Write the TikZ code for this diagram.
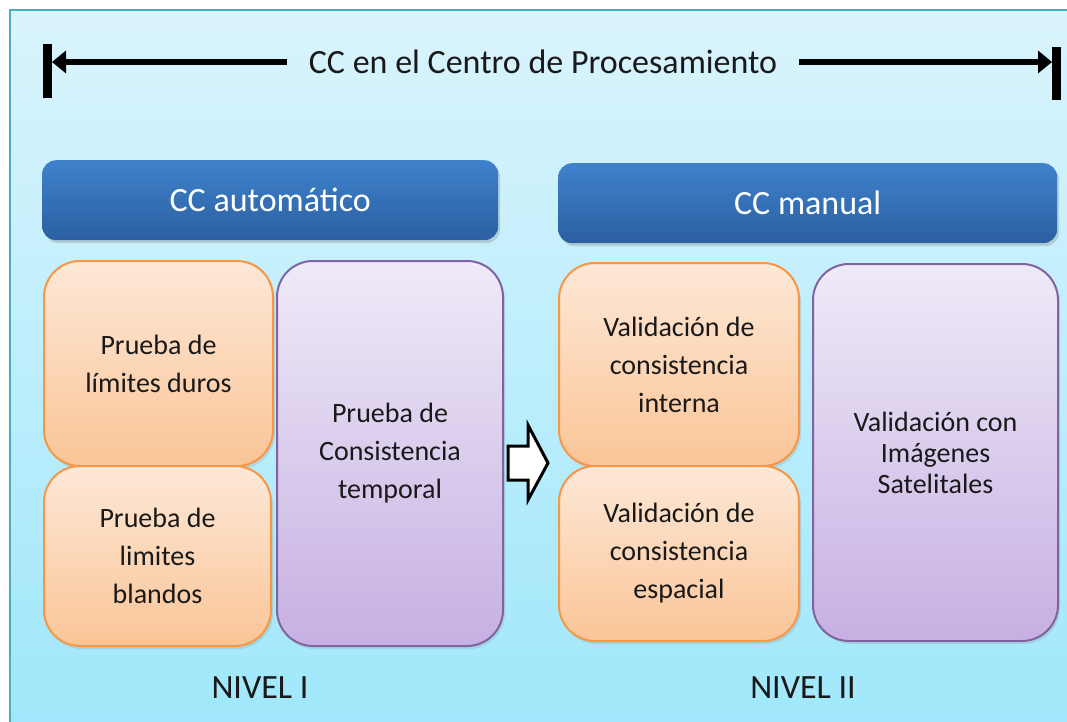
\documentclass[tikz,border=0pt]{standalone}
\usepackage{fontspec}
\setmainfont{Carlito}
\usetikzlibrary{arrows.meta,shadows}

\definecolor{panelarriba}{HTML}{DAF4FD}
\definecolor{panelabajo}{HTML}{9FE7FB}
\definecolor{panelborde}{HTML}{4BACC6}
\definecolor{azularriba}{HTML}{3F82CC}
\definecolor{azulabajo}{HTML}{2B5FA1}
\definecolor{naranjaarriba}{HTML}{FDE8D7}
\definecolor{naranjaabajo}{HTML}{FAC597}
\definecolor{naranjaborde}{HTML}{F79646}
\definecolor{moradaarriba}{HTML}{EFEAF8}
\definecolor{moradaabajo}{HTML}{C6B0E2}
\definecolor{moradaborde}{HTML}{8064A2}

\tikzset{
  caja/.style={anchor=north west, rounded corners=36pt, line width=2pt, align=center,
    inner sep=0pt, font=\fontsize{28}{38}\selectfont, text=black!90,
    drop shadow={opacity=0.2, shadow xshift=2pt, shadow yshift=-3pt}},
  naranja/.style={caja, draw=naranjaborde, top color=naranjaarriba, bottom color=naranjaabajo},
  morada/.style={caja, draw=moradaborde, top color=moradaarriba, bottom color=moradaabajo},
  titular/.style={anchor=north west, rounded corners=14pt, inner sep=0pt, text=white,
    top color=azularriba, bottom color=azulabajo, font=\fontsize{34}{40}\selectfont,
    drop shadow={opacity=0.3, shadow xshift=2pt, shadow yshift=-3pt}},
  nivel/.style={font=\fontsize{34}{40}\selectfont, text=black!90},
  barra/.style={line width=9pt},
}

\begin{document}
\begin{tikzpicture}[x=1pt, y=-1pt]

\useasboundingbox (0,0) rectangle (1067,722);

% fondo
\fill[white] (0,0) rectangle (1067,722);
\draw[panelborde, line width=2pt, top color=panelarriba, bottom color=panelabajo]
  (10,10) rectangle (1090,740);

% CC en el Centro de Procesamiento
\node[font=\fontsize{34}{40}\selectfont, text=black!90, inner xsep=22pt] (titulo) at (543,62) {CC en el Centro de Procesamiento};
\coordinate (izq) at (52,62);
\coordinate (der) at (1052,62);
\draw[barra] (47.5,44) -- (47.5,98);
\draw[barra] (1056,47) -- (1056,100);
\draw[line width=6pt, -{Triangle[length=14pt, width=22pt]}] (titulo.west) -- (izq);
\draw[line width=6pt, -{Triangle[length=14pt, width=22pt]}] (titulo.east) -- (der);

% NIVEL I
\node[titular, minimum width=456pt, minimum height=80pt] (auto) at (42,160) {CC automático};
\node[naranja, minimum width=229pt, minimum height=205pt] (duros) at (43,260) {Prueba de\\límites duros};
\node[naranja, minimum width=227pt, minimum height=180pt] (blandos) at (43,465) {Prueba de\\limites\\blandos};
\node[morada, minimum width=226pt, minimum height=385pt] (temporal) at (276,260) {Prueba de\\Consistencia\\temporal};
\node[nivel] (nivel1) at (260,688) {NIVEL I};

% flecha
\draw[line width=3pt, fill=white, line join=miter]
  (508,446) -- (528,446) -- (528,425) -- (548,463) -- (528,500) -- (528,480) -- (508,480) -- cycle;

% NIVEL II
\node[titular, minimum width=499pt, minimum height=80pt] (manual) at (558,163) {CC manual};
\node[naranja, minimum width=240pt, minimum height=203pt] (interna) at (558,262) {Validación de\\consistencia\\interna};
\node[naranja, minimum width=240pt, minimum height=175pt] (espacial) at (558,465) {Validación de\\consistencia\\espacial};
\node[morada, minimum width=245pt, minimum height=377pt, font=\fontsize{28}{31}\selectfont] (satelite) at (812,263) {Validación con\\Imágenes\\Satelitales};
\node[nivel] (nivel2) at (803,688) {NIVEL II};

\end{tikzpicture}
\end{document}
